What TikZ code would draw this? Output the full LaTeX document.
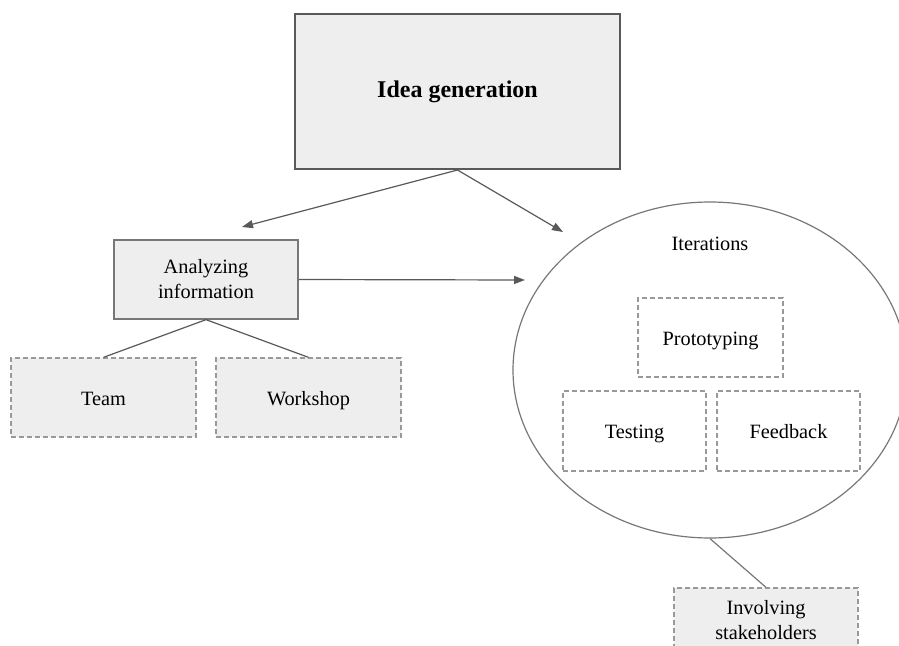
\documentclass[tikz,border=0pt]{standalone}
\usepackage{fontspec}
\setmainfont{Liberation Serif}
\usetikzlibrary{arrows.meta,shapes.geometric}
\definecolor{boxfill}{HTML}{EEEEEE}
\definecolor{darkline}{HTML}{595959}
\definecolor{dashline}{HTML}{999999}
\definecolor{ovalline}{HTML}{777777}
\tikzset{
  base/.style={font=\fontsize{20.3}{25}\selectfont, align=center, inner sep=0pt},
  oneline/.style={text height=19pt, text depth=4pt},
  mainbox/.style={base, draw=darkline, line width=2pt, fill=boxfill,
    font=\fontsize{24}{28}\selectfont\bfseries},
  solidbox/.style={base, draw=ovalline, line width=1.3pt, fill=boxfill},
  dashbox/.style={base, draw=dashline, line width=1.3pt, dash pattern=on 5pt off 3pt},
  dashfill/.style={dashbox, fill=boxfill},
  oval/.style={ellipse, draw=ovalline, line width=1.2pt, inner sep=0pt},
  arrowline/.style={draw=darkline, line width=1.2pt, -{Triangle[length=11pt,width=8pt]}},
  plainline/.style={draw=darkline, line width=1.2pt}
}
\begin{document}
\begin{tikzpicture}[x=1pt,y=-1pt]
\useasboundingbox (0,0) rectangle (899,645);

% main idea box
\node[mainbox, minimum width=325pt, minimum height=155pt] (idea) at (457.5,91.5) {Idea generation};

% analysis branch
\node[solidbox, minimum width=184pt, minimum height=79pt] (ana) at (206,279.5) {Analyzing\\information};
\node[dashfill, oneline, minimum width=185pt, minimum height=79pt] (team) at (103.5,397.5) {Team};
\node[dashfill, oneline, minimum width=185pt, minimum height=79pt] (work) at (308.5,397.5) {Workshop};

% iteration loop
\node[oval, minimum width=394pt, minimum height=336pt] (iter) at (710,370) {};
\node[base] (itlabel) at (710,244) {Iterations};
\node[dashbox, oneline, minimum width=145pt, minimum height=79pt] (proto) at (710.5,337.5) {Prototyping};
\node[dashbox, oneline, minimum width=143pt, minimum height=80pt] (test) at (634.5,431) {Testing};
\node[dashbox, oneline, minimum width=143pt, minimum height=80pt] (feed) at (788.5,431) {Feedback};

% stakeholders
\node[dashfill, minimum width=184pt, minimum height=64pt] (stake) at (766,620) {Involving\\stakeholders};

% arrow ends
\coordinate (anaTip) at (242,227);
\coordinate (iterTip) at (563,232);
\coordinate (sideTip) at (525,280);

\draw[arrowline] (idea.south) -- (anaTip);
\draw[arrowline] (idea.south) -- (iterTip);
\draw[arrowline] (ana.east) -- (sideTip);

\draw[plainline] (ana.south) -- (team.north);
\draw[plainline] (ana.south) -- (work.north);
\draw[plainline, draw=ovalline] (iter.south) -- (stake.north);
\end{tikzpicture}
\end{document}
